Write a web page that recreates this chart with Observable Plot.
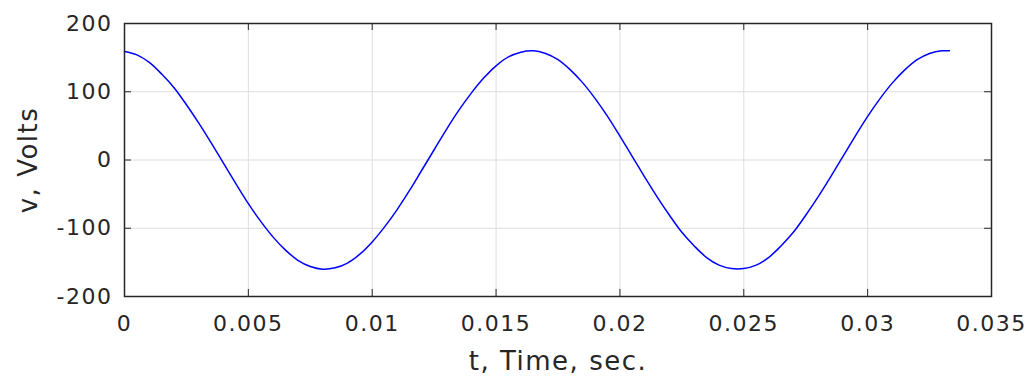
<!DOCTYPE html>
<html>
<head>
<meta charset="utf-8">
<script src="https://cdn.jsdelivr.net/npm/d3@7"></script>
<script src="https://cdn.jsdelivr.net/npm/@observablehq/plot@0.6"></script>
<style>
  html, body { margin: 0; padding: 0; background: #fff; }
  #chart svg { display: block; }
</style>
</head>
<body>
<div id="chart"></div>
<script>
// Time samples (s) and voltage readings (V)
const tValues = [
  0, 0.0005, 0.001, 0.0015, 0.002, 0.0025, 0.003, 0.0035, 0.004, 0.0045,
  0.005, 0.0055, 0.006, 0.0065, 0.007, 0.0075, 0.008, 0.0085, 0.009, 0.0095,
  0.01, 0.0105, 0.011, 0.0115, 0.012, 0.0125, 0.013, 0.0135, 0.014, 0.0145,
  0.015, 0.0155, 0.016, 0.0165, 0.017, 0.0175, 0.018, 0.0185, 0.019, 0.0195,
  0.02, 0.0205, 0.021, 0.0215, 0.022, 0.0225, 0.023, 0.0235, 0.024, 0.0245,
  0.025, 0.0255, 0.026, 0.0265, 0.027, 0.0275, 0.028, 0.0285, 0.029, 0.0295,
  0.03, 0.0305, 0.031, 0.0315, 0.032, 0.0325, 0.033, 0.0333
];
const vValues = [
  159, 154, 143, 126, 106, 81, 54, 25, -5, -35,
  -64, -90, -113, -132, -147, -156, -160, -158, -151, -138,
  -120, -98, -73, -45, -15, 15, 45, 73, 98, 120,
  138, 151, 158, 160, 156, 147, 132, 113, 90, 64,
  35, 5, -25, -54, -81, -106, -126, -143, -154, -159,
  -159, -154, -143, -126, -106, -81, -54, -25, 5, 35,
  64, 90, 113, 132, 147, 156, 160, 160
];
const xTicks = [0, 0.005, 0.01, 0.015, 0.02, 0.025, 0.03, 0.035];
const yTicks = [-200, -100, 0, 100, 200];
const xLabel = "t, Time, sec.";
const yLabel = "v, Volts";

const data = tValues.map((t, i) => ({t, v: vValues[i]}));

const W = 1034, H = 385;
const mT = 23, mB = 89, mL = 124, mR = 43;
const plotH = H - mT - mB, plotW = W - mL - mR;
const tickLen = 7;
const ink = "#262626";
const gridColor = "#dedede";

const chart = Plot.plot({
  width: W,
  height: H,
  marginTop: mT,
  marginBottom: mB,
  marginLeft: mL,
  marginRight: mR,
  style: {fontFamily: "'DejaVu Sans', sans-serif", fontSize: "22px", color: ink, background: "#fff", letterSpacing: "1.5px"},
  x: {domain: [0, 0.035]},
  y: {domain: [-200, 200]},
  marks: [
    Plot.gridX(xTicks, {stroke: gridColor, strokeOpacity: 1, strokeWidth: 1}),
    Plot.gridY(yTicks, {stroke: gridColor, strokeOpacity: 1, strokeWidth: 1}),
    Plot.line(data, {x: "t", y: "v", stroke: "#0000ff", strokeWidth: 1.5, curve: "catmull-rom"}),
    // inward ticks on all four sides
    Plot.tickX(xTicks, {x: d => d, stroke: ink, strokeWidth: 1, insetTop: plotH - tickLen}),
    Plot.tickX(xTicks, {x: d => d, stroke: ink, strokeWidth: 1, insetBottom: plotH - tickLen}),
    Plot.tickY(yTicks, {y: d => d, stroke: ink, strokeWidth: 1, insetRight: plotW - tickLen}),
    Plot.tickY(yTicks, {y: d => d, stroke: ink, strokeWidth: 1, insetLeft: plotW - tickLen}),
    Plot.frame({stroke: ink, strokeWidth: 1.5}),
    Plot.axisX(xTicks, {anchor: "bottom", tickSize: 0, tickPadding: 19, tickFormat: d => String(d), label: null, fill: ink}),
    Plot.axisY(yTicks, {anchor: "left", tickSize: 0, tickPadding: 12, tickFormat: d => String(d), label: null, fill: ink}),
    Plot.text([xLabel], {frameAnchor: "bottom", textAnchor: "middle", dy: 73, fontSize: 26, fill: ink, text: d => d}),
    Plot.text([yLabel], {frameAnchor: "left", textAnchor: "middle", dx: -96, rotate: -90, fontSize: 26, fill: ink, text: d => d})
  ]
});
document.getElementById("chart").appendChild(chart);
</script>
</body>
</html>
